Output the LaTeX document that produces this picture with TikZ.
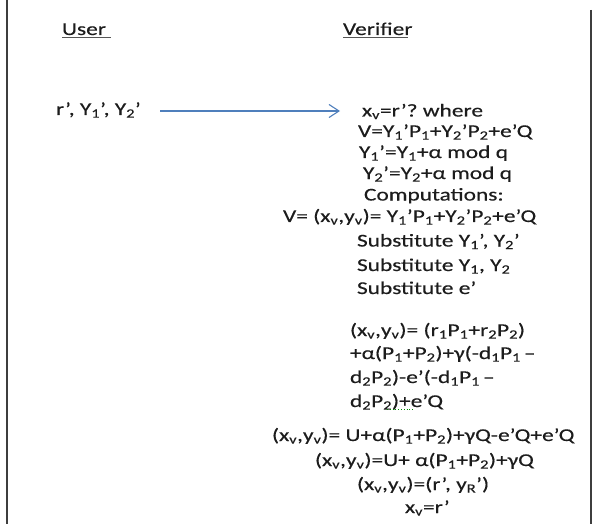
\documentclass[tikz,border=0pt]{standalone}
\usepackage{fontspec}
\setmainfont{Carlito}[FakeStretch=1.3,FakeBold=0.4]
\usetikzlibrary{arrows.meta}
\definecolor{ink}{HTML}{1C1C1C}
\definecolor{arrowblue}{HTML}{4F7FBC}
\newcommand{\sub}[1]{\textsubscript{#1}}
\begin{document}
\begin{tikzpicture}[x=1pt,y=-1pt,
  txt/.style={anchor=base west, inner sep=0pt, outer sep=0pt,
              font=\fontsize{18}{22}\selectfont, text=ink},
  rule/.style={line width=1.4pt, draw=ink!75},
  frame/.style={line width=1.8pt, draw=ink!85},
  msg/.style={draw=arrowblue, line width=1.1pt,
              -{Straight Barb[length=10pt,width=13pt,line width=1.1pt]}}]
\useasboundingbox (0,0) rectangle (592,524);

% side rules of the table cell
\draw[frame] (7,0) -- (7,524);
\draw[frame] (591,10) -- (591,524);

% column headings
\node[txt] (user) at (62,35) {User};
\node[txt] (verifier) at (343,35) {Verifier};
\draw[rule] ([yshift=-2.5pt]user.base west) -- ++(49,0);
\draw[rule] ([yshift=-2.5pt]verifier.base west) -- ++(65,0);

% message from the user
\node[txt] (send) at (56,115) {r’, Y\sub{1}’, Y\sub{2}’};
\coordinate (from) at (160,111);
\coordinate (to) at (340,111);
\draw[msg] (from) -- (to);

% verifier side
\node[txt] (v1) at (362,116.5) {x\sub{v}=r’?\ where};
\node[txt] (v2) at (358,137) {V=Y\sub{1}’P\sub{1}+Y\sub{2}’P\sub{2}+e’Q};
\node[txt] (v3) at (359,158) {Y\sub{1}’=Y\sub{1}+α mod q};
\node[txt] (v4) at (363,179) {Y\sub{2}’=Y\sub{2}+α mod q};
\node[txt] (v5) at (364,200.5) {Computations:};
\node[txt] (v6) at (283,222) {V= (x\sub{v},y\sub{v})= Y\sub{1}’P\sub{1}+Y\sub{2}’P\sub{2}+e’Q};
\node[txt] (v7) at (357,246.5) {Substitute Y\sub{1}’, Y\sub{2}’};
\node[txt] (v8) at (357,271) {Substitute Y\sub{1}, Y\sub{2}};
\node[txt] (v9) at (357,294) {Substitute e’};

\node[txt] (w1) at (350,336) {(x\sub{v},y\sub{v})= (r\sub{1}P\sub{1}+r\sub{2}P\sub{2})};
\node[txt] (w2) at (350,359) {+α(P\sub{1}+P\sub{2})+γ(-d\sub{1}P\sub{1}\,–};
\node[txt] (w3) at (350,383) {d\sub{2}P\sub{2})-e’(-d\sub{1}P\sub{1}\,–};
\node[txt] (w4) at (350,407) {d\sub{2}P\sub{2})+e’Q};
\draw[green!55!black, dotted, line width=0.8pt] (387,409.5) -- (413,409.5);

\node[txt] (z1) at (272,441) {(x\sub{v},y\sub{v})= U+α(P\sub{1}+P\sub{2})+γQ-e’Q+e’Q};
\node[txt] (z2) at (315,466) {(x\sub{v},y\sub{v})=U+ α(P\sub{1}+P\sub{2})+γQ};
\node[txt] (z3) at (357,490) {(x\sub{v},y\sub{v})=(r’, y\sub{R}’)};
\node[txt] (z4) at (405,513) {x\sub{v}=r’};
\end{tikzpicture}
\end{document}
